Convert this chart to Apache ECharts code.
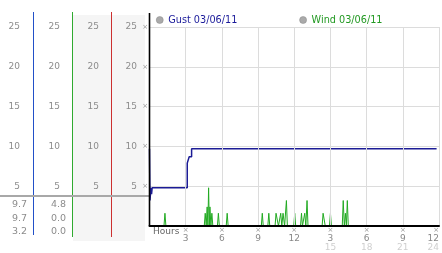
<!DOCTYPE html>
<html><head><meta charset="utf-8">
<script src="https://cdn.jsdelivr.net/npm/echarts@6/dist/echarts.min.js"></script>
<style>html,body{margin:0;padding:0;background:#fff}#c{width:442px;height:253px}</style>
</head><body><div id="c"></div>
<script>
// ---- data ----
var gustName = 'Gust 03/06/11';
var windName = 'Wind 03/06/11';
var gustHours = [0, 0.04, 0.12, 0.17, 0.22, 3.13, 3.29, 3.49, 23.8];
var gustKnots = [9.7, 3.2, 4.8, 4.0, 4.8, 7.9, 8.7, 9.7, 9.7];
var windHours = [0, 1.2,1.28,1.36, 4.54,4.62,4.70,4.78,4.84,4.90,4.96,5.01,5.09,5.17,5.25,
  5.63,5.71,5.79, 6.36,6.44,6.52, 9.27,9.35,9.43, 9.81,9.89,9.97, 10.41,10.49,10.61,10.69,
  10.80,10.88,10.97,11.07,11.20,11.35,11.43, 11.96,12.04,12.12, 12.52,12.60,12.68,
  12.79,12.87,12.96,13.06,13.14, 14.31,14.39,14.49,14.57, 14.92,15.00,15.08,
  15.98,16.06,16.15,16.24,16.32,16.40,16.48, 24];
var windKnots = [0, 0,1.6,0, 0,1.6,0,2.4,0,4.8,0,2.4,0,1.6,0,
  0,1.6,0, 0,1.6,0, 0,1.6,0, 0,1.6,0, 0,1.6,1.6,0,
  0,1.6,0,1.6,0,3.2,0, 0,1.6,0, 0,1.6,0,
  0,1.6,0,3.2,0, 0,1.6,1.6,0, 0,1.6,0,
  0,3.2,0,1.6,0,3.2,0, 0];
var hourLabels12 = ['3','6','9','12','3','6','9','12'];
var hourLabels24 = ['','','','','15','18','21','24'];
var gustStats = ['9.7','9.7','3.2'];
var windStats = ['4.8','0.0','0.0'];

// ---- chart ----
function zip(a,b){var r=[];for(var i=0;i<a.length;i++)r.push([a[i],b[i]]);return r;}
var chart = echarts.init(document.getElementById('c'), null, {renderer:'canvas'});
var FONT = 'DejaVu Sans';
var MARK = '\u00d7';
function colAxis(off){
  return {type:'value', gridIndex:0, position:'left', offset:off, min:0, max:25, interval:5,
    axisLine:{show:false}, axisTick:{show:false}, splitLine:{show:false},
    axisLabel:{margin:0, color:'#8c8c8c', fontSize:9, fontFamily:FONT,
      formatter:function(v){return v===0?'':String(v);}}};
}
var graphics = [
  {type:'rect', z:-10, shape:{x:73, y:15, width:72, height:226}, style:{fill:'#f5f5f5'}},
  {type:'rect', z:10, shape:{x:33, y:12, width:1, height:223}, style:{fill:'#2250c8'}},
  {type:'rect', z:10, shape:{x:72, y:12, width:1, height:225}, style:{fill:'#30aa30'}},
  {type:'rect', z:10, shape:{x:111, y:12, width:1, height:225}, style:{fill:'#cc3030'}},
  {type:'line', z:11, shape:{x1:0,y1:196,x2:149,y2:196}, style:{stroke:'#a8a8a8', lineWidth:2}},
  {type:'line', z:100, shape:{x1:149.5,y1:13,x2:149.5,y2:226}, style:{stroke:'#000', lineWidth:1.6}},
  {type:'text', style:{text:'Hours', x:153, y:232, fill:'#666', font:'9px '+FONT, verticalAlign:'middle'}}
];
var statY = [205, 218.5, 232];
for (var i=0;i<3;i++){
  graphics.push({type:'text', style:{text:gustStats[i], x:27, y:statY[i], fill:'#8c8c8c', font:'9.5px '+FONT, align:'right', verticalAlign:'middle'}});
  graphics.push({type:'text', style:{text:windStats[i], x:66, y:statY[i], fill:'#8c8c8c', font:'9.5px '+FONT, align:'right', verticalAlign:'middle'}});
}
var option = {
  animation:false,
  backgroundColor:'#fff',
  textStyle:{fontFamily:FONT},
  grid:{left:149.5, right:2.5, top:27, bottom:27, containLabel:false},
  legend:{left:156, top:15, padding:0, itemWidth:7, itemHeight:7, itemGap:62, icon:'circle',
    textStyle:{fontSize:9.7, fontFamily:FONT},
    data:[
      {name:gustName, itemStyle:{color:'#aaa', borderColor:'#888', borderWidth:0.5}, textStyle:{color:'#1a1a9a'}},
      {name:windName, itemStyle:{color:'#aaa', borderColor:'#888', borderWidth:0.5}, textStyle:{color:'#229922'}}
    ]},
  xAxis:{type:'value', min:0, max:24, interval:3, z:5,
    axisLine:{show:true, lineStyle:{color:'#000', width:2}},
    axisTick:{show:false},
    splitLine:{show:true, lineStyle:{color:'#dcdcdc', width:1}},
    axisLabel:{margin:0, showMinLabel:false, alignMaxLabel:'right',
      formatter:function(v){var k=Math.round(v/3)-1; if(k<0)return '';
        return '{g|'+MARK+'}\n{a|'+hourLabels12[k]+'}\n{b|'+(hourLabels24[k]||' ')+'}';},
      rich:{g:{fontSize:7, lineHeight:8, color:'#999', fontFamily:FONT},
            a:{fontSize:9, lineHeight:9, color:'#888', fontFamily:FONT},
            b:{fontSize:9, lineHeight:9, color:'#cfcfcf', fontFamily:FONT}}}},
  yAxis:[
    {type:'value', min:0, max:25, interval:5,
      axisLine:{show:false}, axisTick:{show:false},
      splitLine:{show:true, lineStyle:{color:'#dcdcdc', width:1}},
      axisLabel:{margin:1.5, fontSize:7, color:'#999', fontFamily:FONT,
        formatter:function(v){return v===0?'':MARK;}}},
    colAxis(129.5), colAxis(89.5), colAxis(50.5), colAxis(12.5)
  ],
  series:[
    {name:windName, type:'line', data:zip(windHours, windKnots), showSymbol:false, symbol:'none',
      lineStyle:{color:'#22aa22', width:1}, itemStyle:{color:'#22aa22'}, z:3},
    {name:gustName, type:'line', step:'end', data:zip(gustHours, gustKnots), showSymbol:false, symbol:'none',
      lineStyle:{color:'#1c1c96', width:1.5}, itemStyle:{color:'#1c1c96'}, z:4}
  ],
  graphic:graphics
};
chart.setOption(option);
</script></body></html>
